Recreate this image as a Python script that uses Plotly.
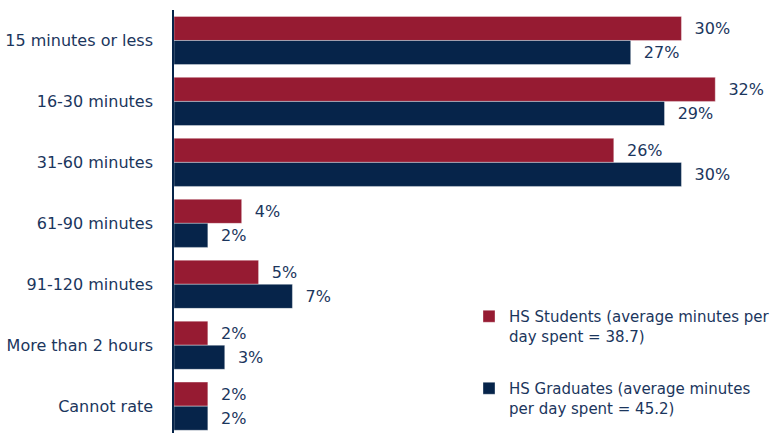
import plotly.graph_objects as go

categories = ["15 minutes or less", "16-30 minutes", "31-60 minutes", "61-90 minutes",
              "91-120 minutes", "More than 2 hours", "Cannot rate"]
hs_students = [30, 32, 26, 4, 5, 2, 2]
hs_graduates = [27, 29, 30, 2, 7, 3, 2]
series_names = ["HS Students (average minutes per<br>day spent = 38.7)",
                "HS Graduates (average minutes<br>per day spent = 45.2)"]

RED = "#961B32"
NAVY = "#06244A"
TEXT = "#1B365D"
FONT = "DejaVu Sans"

fig = go.Figure()
for i, (name, vals, color) in enumerate([(series_names[0], hs_students, RED),
                                         (series_names[1], hs_graduates, NAVY)]):
    fig.add_trace(go.Bar(
        y=categories, x=vals, name=name, orientation="h", legendgroup=f"g{i}",
        marker=dict(color=color, line=dict(color="rgba(255,255,255,0.6)", width=0.6)),
        text=[f"  {v}%" for v in vals], textposition="outside",
        textfont=dict(family=FONT, size=16, color=TEXT),
        cliponaxis=False,
    ))

fig.update_layout(
    width=775, height=433,
    margin=dict(l=174, r=9, t=10, b=0, autoexpand=False),
    paper_bgcolor="white", plot_bgcolor="white",
    barmode="group", bargap=0.21, bargroupgap=0,
    font=dict(family=FONT, size=16, color=TEXT),
    showlegend=True,
    legend=dict(
        xref="container", yref="container", x=469 / 775, y=1 - 300 / 433,
        xanchor="left", yanchor="top", valign="top",
        font=dict(family=FONT, size=15, color=TEXT),
        bgcolor="rgba(0,0,0,0)", tracegroupgap=30,
        traceorder="grouped", itemwidth=30,
    ),
    xaxis=dict(range=[0, 35], visible=False, fixedrange=True),
    yaxis=dict(
        type="category", range=[6.44, -0.5],
        showline=True, linecolor=NAVY, linewidth=1.5,
        ticks="", ticklabelstandoff=16, showgrid=False,
        tickfont=dict(family=FONT, size=16, color=TEXT),
    ),
)

fig.write_html("out.html")
